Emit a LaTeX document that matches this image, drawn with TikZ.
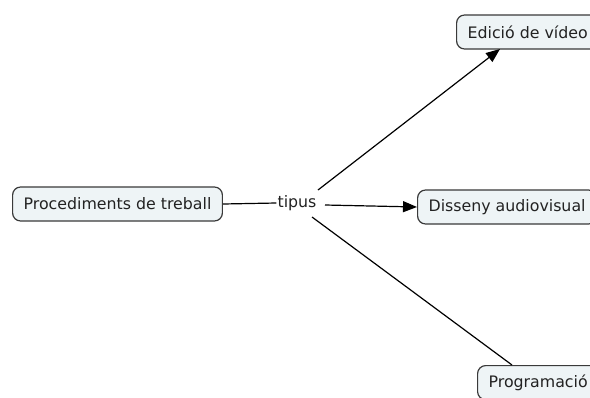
\documentclass[tikz,border=0pt]{standalone}
\usepackage{fontspec}
\setmainfont{DejaVu Sans}
\usetikzlibrary{arrows.meta}
\definecolor{boxfill}{HTML}{EEF4F6}
\definecolor{boxline}{HTML}{3A3A3A}
\definecolor{inktext}{HTML}{222222}
\tikzset{
  concept/.style={draw=boxline, line width=1.2pt, fill=boxfill, rounded corners=8pt,
    font=\fontsize{15.8}{18}\selectfont, text=inktext, inner xsep=11pt, minimum height=34pt},
  linkword/.style={font=\fontsize{15.8}{18}\selectfont, text=inktext, inner sep=1pt},
  link/.style={draw=black, line width=1.2pt},
  arrowlink/.style={link, -{Triangle[length=14pt,width=11pt]}}
}
\begin{document}
\begin{tikzpicture}[x=1pt,y=-1pt]
  \useasboundingbox (0,0) rectangle (590,397);
  \clip (0,0) rectangle (590,397);
  \fill[white] (0,0) rectangle (590,397);
  \node[concept, anchor=west] (proc) at (12,204) {Procediments de treball};
  \node[linkword] (tip) at (297,203) {tipus};
  \node[concept, anchor=west] (edit) at (456,32) {Edició de vídeo};
  \node[concept, anchor=west] (disseny) at (417,207) {Disseny audiovisual};
  \node[concept, anchor=north west] (prog) at (477,365) {Programació};
  \draw[link] (proc.east) -- (tip.west);
  \draw[arrowlink] (325,205) -- (disseny.west);
  \draw[arrowlink] (318,190) -- (500,49);
  \draw[link] (312,217) -- (512,365);
\end{tikzpicture}
\end{document}
